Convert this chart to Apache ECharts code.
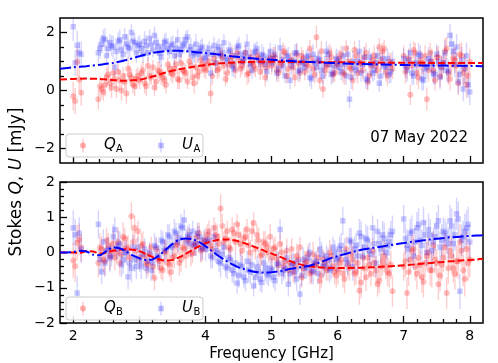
<!DOCTYPE html>
<html><head><meta charset="utf-8">
<script src="https://cdn.jsdelivr.net/npm/echarts@6/dist/echarts.min.js"></script>
<style>html,body{margin:0;padding:0;background:#fff}#c{width:498px;height:363px}</style>
</head><body><div id="c"></div>
<script>
// ---- data ----
// channel set 1
const freqs = [2.00,2.03,2.06,2.09,2.12,
 2.38,2.43,2.48,2.53,2.58,2.63,2.68,2.73,2.78,2.83,2.88,2.93,2.98,
 3.03,3.08,3.13,3.18,3.23,3.28,3.33,3.38,3.43,3.48,3.53,3.58,3.63,3.68,3.73,3.78,3.83,3.88,3.93,3.98,
 4.03,4.08,4.13,4.18,4.23,4.28,4.33,4.38,4.43,4.48,4.53,4.58,4.63,4.68,4.73,4.78,4.83,4.88,4.93,4.98,
 5.03,5.08,5.13,5.18,5.23,5.28,5.33,5.38,5.43,5.48,5.53,5.58,5.63,5.68,5.73,5.78,5.83,5.88,5.93,5.98,
 6.03,6.08,6.13,6.18,6.23,6.28,6.33,6.38,6.43,6.48,6.53,6.58,6.63,6.68,6.73,6.78,6.83,
 7.00,7.05,7.10,7.15,7.20,7.25,7.30,7.35,7.40,7.45,7.50,7.55,7.60,7.65,7.70,7.75,7.80,7.85,7.90,7.95,8.00];

const qA = [-0.2,-0.36,0.98,0.38,-0.08,
 -0.3,0.05,0.2,0.55,0.1,0.4,0.65,0.0,0.3,0.75,0.45,0.15,0.5,
 0.6,0.25,0.85,0.45,0.1,0.7,0.55,0.35,0.9,0.6,0.75,0.4,0.95,0.65,0.3,0.85,0.25,0.5,1.05,0.75,
 0.9,-0.1,1.1,0.7,1.25,0.85,0.6,1.05,0.9,1.3,0.75,1.0,0.55,1.15,0.85,1.2,0.65,1.0,0.8,1.1,
 1.2,0.7,0.95,1.35,0.5,1.0,0.8,1.25,0.6,1.1,0.9,1.45,0.75,1.84,0.35,0.05,0.85,1.3,0.55,0.95,
 1.1,0.6,1.45,0.8,0.35,1.2,0.95,0.7,1.3,0.5,1.05,0.85,1.5,1.35,0.65,1.0,0.75,
 1.2,0.8,-0.15,1.4,0.6,1.05,0.9,-0.3,1.3,0.7,1.15,0.5,0.95,1.45,0.4,1.1,0.85,1.25,0.6,0.2,1.0];

const uA = [2.2,0.95,1.56,1.3,1.25,
 1.3,1.6,1.75,1.45,1.55,0.8,1.7,1.4,1.85,1.5,2.0,1.65,1.55,
 1.45,1.7,1.3,1.6,1.9,1.5,1.15,1.65,1.45,1.55,1.2,1.75,1.4,1.6,1.85,1.5,1.3,1.25,1.45,1.1,
 1.3,0.6,1.55,1.4,1.2,1.65,1.05,1.35,0.75,1.5,1.25,1.1,1.6,0.9,1.3,1.45,1.0,1.2,0.65,1.35,
 1.1,0.6,1.47,0.85,1.2,0.35,1.0,1.3,0.7,0.95,1.15,0.45,1.25,0.8,1.05,0.5,1.35,0.9,0.6,1.1,
 0.8,1.2,0.5,-0.3,1.0,0.7,1.35,0.9,0.4,1.15,0.6,0.95,0.25,1.1,0.8,0.55,1.0,
 1.1,0.7,1.3,0.5,0.9,1.2,0.35,0.8,1.0,0.6,1.25,0.45,0.95,0.7,1.9,1.35,1.5,0.55,0.05,1.2,-0.05];

const errA = [0.5,0.45,0.5,0.4,0.45,
 0.35,0.3,0.4,0.3,0.35,0.3,0.3,0.35,0.3,0.4,0.3,0.35,0.3,
 0.3,0.35,0.3,0.25,0.3,0.3,0.35,0.3,0.25,0.3,0.3,0.35,0.3,0.3,0.25,0.3,0.35,0.3,0.3,0.3,
 0.3,0.35,0.3,0.3,0.25,0.3,0.35,0.3,0.3,0.25,0.3,0.3,0.35,0.3,0.3,0.25,0.3,0.3,0.35,0.3,
 0.3,0.3,0.35,0.3,0.25,0.3,0.3,0.35,0.3,0.3,0.25,0.3,0.35,0.4,0.3,0.3,0.35,0.3,0.3,0.35,
 0.3,0.35,0.3,0.3,0.35,0.3,0.4,0.3,0.35,0.3,0.3,0.35,0.3,0.3,0.35,0.3,0.35,
 0.35,0.4,0.35,0.3,0.4,0.35,0.35,0.4,0.35,0.4,0.35,0.4,0.35,0.4,0.4,0.35,0.45,0.4,0.4,0.45,0.45];

const qB = [-0.23,-0.39,0.28,0.37,0.14,
 -0.3,0.1,-0.25,0.2,0.05,-0.15,0.3,-0.05,0.4,0.15,1.03,0.7,0.6,
 0.2,-0.1,-0.35,0.15,-0.72,-0.2,-0.45,0.0,-0.3,-0.55,-0.1,0.25,-0.2,0.1,0.35,-0.05,0.2,0.45,0.05,0.3,
 0.5,0.2,0.7,0.45,1.25,0.3,0.6,0.1,0.55,0.8,0.25,0.4,0.65,0.0,0.84,0.5,-0.1,0.3,0.15,0.45,
 0.1,-0.2,0.25,-0.4,0.05,-0.3,-0.55,-0.1,0.15,-0.45,-0.25,-0.6,-0.05,-0.35,-0.8,-0.2,-0.5,0.0,-0.4,-0.65,
 -0.3,-0.6,0.1,-0.45,-0.2,-0.55,-1.08,-0.15,-0.7,-0.35,0.05,-0.5,-0.8,-0.25,-0.4,-0.6,-1.1,
 -0.4,-1.15,-0.2,0.1,-0.6,-0.35,-0.83,-0.1,-0.5,0.2,-0.3,-0.65,-0.15,-1.15,0.05,-0.45,-0.25,0.3,-0.5,0.1,-0.2];

const uB = [0.7,0.5,-1.15,0.55,0.1,
 0.8,-0.55,-0.3,0.1,-0.1,0.65,0.2,-0.35,0.0,-0.69,-0.45,-0.2,0.15,
 -0.4,0.1,-0.25,-0.5,0.2,-0.1,0.35,0.05,0.5,0.15,0.6,0.3,0.75,0.92,0.45,0.25,0.2,0.55,0.1,0.35,
 0.3,-0.1,0.45,0.0,-0.3,0.15,-0.45,-0.2,-0.6,-0.87,-0.35,-0.7,-0.25,-0.55,-0.95,-0.4,-0.75,-0.3,-0.6,-0.45,
 -0.7,-0.35,0.65,-0.5,-0.15,-0.6,-0.3,-0.75,-1.18,-0.2,-0.45,0.0,-0.55,-0.25,0.1,-0.4,-0.1,-0.5,0.15,-0.2,
 0.1,0.9,-0.2,0.35,-0.4,0.2,0.55,-0.1,0.4,0.05,0.7,-0.3,0.25,0.5,0.0,0.3,0.6,
 0.95,0.2,0.55,-0.1,0.7,0.35,0.85,0.0,0.5,0.3,0.75,0.15,0.6,0.4,0.9,0.25,1.1,-1.1,0.45,0.7,0.3];

const errB = [0.5,0.45,0.5,0.45,0.4,
 0.4,0.35,0.4,0.35,0.3,0.35,0.4,0.35,0.3,0.35,0.4,0.35,0.3,
 0.35,0.3,0.35,0.3,0.35,0.3,0.3,0.35,0.3,0.3,0.35,0.3,0.35,0.3,0.3,0.35,0.3,0.3,0.35,0.3,
 0.3,0.35,0.3,0.35,0.4,0.3,0.3,0.35,0.3,0.3,0.35,0.3,0.3,0.35,0.3,0.3,0.35,0.3,0.3,0.35,
 0.3,0.35,0.3,0.3,0.35,0.3,0.3,0.35,0.3,0.35,0.3,0.3,0.35,0.3,0.35,0.3,0.3,0.35,0.3,0.35,
 0.35,0.4,0.35,0.35,0.4,0.35,0.4,0.35,0.4,0.35,0.35,0.4,0.35,0.4,0.35,0.4,0.45,
 0.4,0.45,0.4,0.4,0.45,0.4,0.45,0.4,0.45,0.4,0.4,0.45,0.4,0.45,0.45,0.4,0.45,0.5,0.45,0.5,0.5];

// channel set 2 (interleaved)
const freqs2 = [2.405,2.455,2.505,2.555,2.605,2.655,2.705,2.755,2.805,2.855,2.905,2.955,
 3.005,3.055,3.105,3.155,3.205,3.255,3.305,3.355,3.405,3.455,3.505,3.555,3.605,3.655,3.705,3.755,3.805,3.855,3.905,3.955,
 4.005,4.055,4.105,4.155,4.205,4.255,4.305,4.355,4.405,4.455,4.505,4.555,4.605,4.655,4.705,4.755,4.805,4.855,4.905,4.955,
 5.005,5.055,5.105,5.155,5.205,5.255,5.305,5.355,5.405,5.455,5.505,5.555,5.605,5.655,5.705,5.755,5.805,5.855,5.905,5.955,
 6.005,6.055,6.105,6.155,6.205,6.255,6.305,6.355,6.405,6.455,6.505,6.555,6.605,6.655,6.705,6.755,6.805,
 7.025,7.075,7.125,7.175,7.225,7.275,7.325,7.375,7.425,7.475,7.525,7.575,7.625,7.675,7.725,7.775,7.825,7.875,7.925,7.975];

const qA2 = [0.15,-0.05,0.45,0.25,0.6,0.05,0.35,0.5,-0.1,0.55,0.2,0.4,
 0.35,0.7,0.15,0.5,0.8,0.3,0.65,0.45,0.2,0.75,0.55,0.9,0.35,0.7,0.6,1.0,0.45,0.8,0.65,0.9,
 0.7,1.0,0.5,0.95,0.75,1.15,0.4,0.9,1.2,0.7,1.05,0.85,1.3,0.6,0.95,0.75,1.1,0.9,0.45,1.0,
 0.85,1.15,0.6,0.9,1.3,0.75,1.05,0.45,0.95,1.2,0.65,0.85,1.1,0.55,1.0,1.35,0.7,0.9,1.15,0.6,
 0.9,1.25,0.55,1.0,0.75,1.4,0.6,0.95,1.15,0.3,0.85,1.2,0.7,1.05,1.45,0.5,0.9,
 0.65,1.1,0.85,1.3,0.45,0.95,1.2,0.7,1.0,0.35,1.15,0.8,1.35,0.6,0.9,1.05,0.25,1.2,0.75,0.5];

const uA2 = [1.45,1.8,1.2,1.65,1.5,1.35,1.75,1.25,1.6,1.45,1.7,1.3,
 1.6,1.25,1.55,1.8,1.4,1.65,1.3,1.5,1.7,1.35,1.6,1.45,1.25,1.55,1.75,1.4,1.2,1.6,1.35,1.5,
 1.15,1.45,1.25,0.95,1.5,1.3,1.1,1.4,0.85,1.2,1.55,1.0,1.3,1.15,0.7,1.35,1.05,1.25,0.9,1.15,
 0.95,1.25,0.75,1.05,0.5,1.15,0.85,1.3,0.65,1.0,0.8,1.2,0.4,0.95,1.1,0.7,0.9,1.25,0.55,0.85,
 1.05,0.65,0.9,1.25,0.45,0.8,1.0,0.6,1.15,0.35,0.9,0.7,1.2,0.5,0.85,1.1,0.65,
 0.85,1.05,0.6,0.95,1.25,0.4,0.75,1.1,0.9,0.55,1.0,0.8,1.3,0.65,1.6,0.9,0.3,1.05,0.75,0.2];

const errA2 = [0.35,0.3,0.35,0.3,0.4,0.3,0.35,0.3,0.35,0.3,0.3,0.35,
 0.3,0.3,0.35,0.3,0.25,0.3,0.35,0.3,0.3,0.25,0.3,0.35,0.3,0.3,0.3,0.25,0.3,0.35,0.3,0.3,
 0.3,0.25,0.3,0.35,0.3,0.3,0.25,0.3,0.35,0.3,0.3,0.3,0.25,0.35,0.3,0.3,0.3,0.35,0.3,0.25,
 0.3,0.35,0.3,0.3,0.25,0.35,0.3,0.3,0.35,0.3,0.3,0.25,0.35,0.3,0.3,0.35,0.3,0.3,0.35,0.3,
 0.35,0.3,0.35,0.3,0.4,0.3,0.35,0.3,0.35,0.3,0.4,0.35,0.3,0.35,0.3,0.35,0.4,
 0.4,0.35,0.4,0.35,0.4,0.4,0.35,0.4,0.45,0.35,0.4,0.4,0.45,0.4,0.4,0.45,0.4,0.45,0.5,0.45];

const qB2 = [0.15,-0.2,0.35,-0.1,0.25,0.0,-0.3,0.45,0.1,-0.15,0.3,0.05,
 -0.15,0.25,-0.3,-0.05,-0.4,0.1,-0.25,-0.5,0.05,-0.35,-0.15,0.2,-0.3,0.15,-0.1,0.4,0.0,0.25,0.55,0.1,
 0.35,0.6,0.1,0.5,0.25,0.75,0.4,0.15,0.65,0.3,0.5,0.05,0.45,0.2,0.6,0.1,0.35,-0.05,0.25,0.0,
 -0.15,0.15,-0.35,0.0,-0.25,-0.5,0.1,-0.4,-0.2,-0.7,-0.3,-0.05,-0.55,-0.35,-0.15,-0.65,-0.3,-0.45,-0.1,-0.55,
 -0.5,-0.2,-0.75,-0.35,-0.05,-0.6,-0.3,-0.85,-0.45,-0.15,-0.6,-0.3,-0.9,-0.4,-0.1,-0.55,-0.35,
 -0.25,-0.55,0.05,-0.4,-0.15,-0.7,-0.3,0.0,-0.5,-0.2,-0.9,-0.35,0.15,-0.45,-0.1,-0.6,-0.25,0.05,-0.75,-0.3];

const uB2 = [-0.2,0.3,0.05,-0.15,0.45,0.1,0.25,-0.2,0.0,-0.3,0.15,-0.4,
 -0.25,-0.05,-0.45,0.0,-0.3,0.15,-0.15,0.3,0.1,0.45,0.2,0.55,0.4,0.7,0.3,0.5,0.6,0.25,0.45,0.15,
 0.1,0.35,-0.15,0.05,-0.25,-0.05,-0.4,-0.15,-0.5,-0.3,-0.65,-0.4,-0.8,-0.5,-0.35,-0.7,-0.55,-0.85,-0.45,-0.65,
 -0.5,-0.8,-0.3,-0.6,-0.45,-0.9,-0.35,-0.55,-0.25,-0.65,-0.4,-0.15,-0.5,-0.3,-0.6,-0.05,-0.35,-0.2,-0.45,0.0,
 -0.15,0.2,0.0,-0.3,0.3,0.1,-0.1,0.45,0.15,0.35,-0.05,0.25,0.6,0.1,0.4,0.2,0.5,
 0.4,0.1,0.6,0.3,0.8,0.2,0.5,0.65,0.05,0.45,0.9,0.35,0.55,0.25,0.75,0.5,0.95,0.35,0.6,0.8];

const errB2 = [0.4,0.35,0.35,0.4,0.35,0.3,0.35,0.4,0.35,0.3,0.35,0.35,
 0.3,0.35,0.3,0.3,0.35,0.3,0.35,0.3,0.3,0.35,0.3,0.3,0.35,0.3,0.35,0.3,0.3,0.35,0.3,0.35,
 0.35,0.3,0.3,0.35,0.3,0.35,0.3,0.3,0.35,0.3,0.35,0.3,0.3,0.35,0.3,0.3,0.35,0.3,0.35,0.3,
 0.35,0.3,0.35,0.3,0.3,0.35,0.3,0.35,0.3,0.3,0.35,0.3,0.35,0.3,0.3,0.35,0.3,0.35,0.3,0.35,
 0.4,0.35,0.4,0.35,0.4,0.35,0.4,0.45,0.35,0.4,0.35,0.4,0.35,0.4,0.45,0.4,0.4,
 0.45,0.4,0.45,0.4,0.45,0.45,0.4,0.45,0.5,0.4,0.45,0.45,0.4,0.45,0.5,0.45,0.5,0.45,0.5,0.5];

// model curves
const modelFreqA = [1.8,2.0,2.2,2.4,2.6,2.8,3.0,3.2,3.4,3.6,3.8,4.0,4.2,4.4,4.6,4.8,5.0,5.2,5.4,5.6,5.8,6.0,6.2,6.4,6.6,6.8,7.0,7.2,7.4,7.6,7.8,8.0,8.2];
const qModelA = [0.38,0.40,0.41,0.40,0.36,0.34,0.37,0.48,0.62,0.73,0.81,0.88,0.93,0.96,0.98,0.99,0.99,0.99,0.98,0.98,0.97,0.97,0.97,0.96,0.96,0.96,0.96,0.96,0.95,0.95,0.95,0.95,0.95];
const uModelA = [0.75,0.80,0.84,0.89,0.95,1.05,1.18,1.30,1.36,1.37,1.34,1.29,1.24,1.18,1.13,1.09,1.06,1.03,1.00,0.98,0.96,0.94,0.92,0.91,0.90,0.89,0.88,0.87,0.86,0.86,0.85,0.85,0.84];

const modelFreqB = [1.8,1.9,2.0,2.1,2.2,2.3,2.4,2.5,2.6,2.7,2.8,2.9,3.0,3.1,3.2,3.3,3.4,3.5,3.6,3.7,3.8,3.9,4.0,4.1,4.2,4.3,4.4,4.5,4.6,4.7,4.8,4.9,5.0,5.1,5.2,5.3,5.4,5.5,5.6,5.7,5.8,5.9,6.0,6.1,6.2,6.3,6.4,6.5,6.6,6.7,6.8,6.9,7.0,7.1,7.2,7.3,7.4,7.5,7.6,7.7,7.8,7.9,8.0,8.1,8.2];
const qModelB = [0.0,0.0,0.0,-0.01,0.04,0.03,-0.03,0.0,0.05,0.08,0.09,0.08,0.04,-0.04,-0.13,-0.2,-0.23,-0.21,-0.14,-0.04,0.07,0.17,0.26,0.32,0.36,0.37,0.36,0.32,0.26,0.19,0.12,0.04,-0.03,-0.1,-0.18,-0.26,-0.32,-0.37,-0.4,-0.42,-0.43,-0.44,-0.44,-0.44,-0.44,-0.43,-0.43,-0.42,-0.41,-0.4,-0.39,-0.38,-0.36,-0.35,-0.33,-0.31,-0.3,-0.28,-0.27,-0.25,-0.24,-0.22,-0.21,-0.2,-0.18];
const uModelB = [0.0,0.0,0.01,0.05,0.03,-0.06,-0.08,0.04,0.14,0.12,0.03,-0.08,-0.16,-0.21,-0.2,-0.08,0.08,0.24,0.36,0.40,0.38,0.3,0.18,0.04,-0.1,-0.22,-0.33,-0.42,-0.48,-0.53,-0.56,-0.57,-0.56,-0.54,-0.5,-0.46,-0.43,-0.4,-0.36,-0.3,-0.23,-0.16,-0.1,-0.05,0.0,0.05,0.09,0.12,0.15,0.18,0.21,0.24,0.27,0.3,0.32,0.35,0.37,0.39,0.41,0.43,0.44,0.46,0.47,0.48,0.49];

const xMajorTicks = [2,3,4,5,6,7,8];
const xMinorTicks = [2.2,2.4,2.6,2.8,3.2,3.4,3.6,3.8,4.2,4.4,4.6,4.8,5.2,5.4,5.6,5.8,6.2,6.4,6.6,6.8,7.2,7.4,7.6,7.8];
const yMajorTicksA = [-2,0,2];
const yMinorTicksA = [-1.5,-1,-0.5,0.5,1,1.5];
const yMajorTicksB = [-2,-1,0,1,2];
const yMinorTicksB = [-1.8,-1.6,-1.4,-1.2,-0.8,-0.6,-0.4,-0.2,0.2,0.4,0.6,0.8,1.2,1.4,1.6,1.8];

// ---- chart ----
const FONT = 'DejaVu Sans';
const RED = 'rgba(255,0,0,0.3)', REDBAR = 'rgba(255,0,0,0.2)';
const BLUE = 'rgba(0,0,255,0.26)', BLUEBAR = 'rgba(0,0,255,0.17)';
const chart = echarts.init(document.getElementById('c'), null, {renderer: 'canvas'});

const allF = freqs.concat(freqs2);
const pairs = (xs, ys) => xs.map((x, i) => [x, ys[i]]);
const triples = (xs, ys, es) => xs.map((x, i) => [x, ys[i], es[i]]);
const minus = v => String(v).replace('-', '\u2212');

function errSeries(ai, data, color) {
  return {type: 'custom', xAxisIndex: ai.x, yAxisIndex: ai.y, clip: true, silent: true, data,
    encode: {x: 0, y: 1},
    renderItem(params, api) {
      const x = api.value(0), y = api.value(1), e = api.value(2);
      const p1 = api.coord([x, y - e]), p2 = api.coord([x, y + e]);
      return {type: 'line', shape: {x1: p1[0], y1: p1[1], x2: p2[0], y2: p2[1]},
        style: {stroke: color, lineWidth: 1.4}};
    }};
}
function pts(ai, data, color, symbol, size) {
  return {type: 'scatter', xAxisIndex: ai.x, yAxisIndex: ai.y, data, symbol, symbolSize: size,
    itemStyle: {color: color}, silent: true, clip: true};
}
function model(ai, data, color, dash) {
  return {type: 'line', xAxisIndex: ai.x, yAxisIndex: ai.y, data, smooth: 0.3, showSymbol: false,
    lineStyle: {color, width: 2, type: dash}, silent: true, z: 5};
}
function xAx(gi, ticks, len, showLabel, name) {
  const ax = {type: 'value', gridIndex: gi, min: 1.8, max: 8.2, position: 'bottom',
    axisLine: {show: false, onZero: false}, splitLine: {show: false},
    axisTick: {show: true, inside: true, length: len, customValues: ticks, lineStyle: {color: '#000', width: 1.3}},
    axisLabel: {show: showLabel, customValues: ticks, margin: 6, color: '#000', fontFamily: FONT, fontSize: 14}};
  if (name) {
    ax.name = name; ax.nameLocation = 'middle'; ax.nameGap = 24;
    ax.nameTextStyle = {color: '#000', fontFamily: FONT, fontSize: 15};
  }
  return ax;
}
function yAx(gi, mn, mx, ticks, len, showLabel) {
  return {type: 'value', gridIndex: gi, min: mn, max: mx, position: 'left',
    axisLine: {show: false, onZero: false}, splitLine: {show: false},
    axisTick: {show: true, inside: true, length: len, customValues: ticks, lineStyle: {color: '#000', width: 1.3}},
    axisLabel: {show: showLabel, customValues: ticks, margin: 5, color: '#000', fontFamily: FONT, fontSize: 14, formatter: minus}};
}

const A = {x: 0, y: 0}, B = {x: 2, y: 2};

function legendGraphics(top, sub) {
  const cy = top + 11.5;
  return [
    {type: 'rect', z: 100, shape: {x: 66, y: top, width: 137, height: 23, r: 3},
      style: {fill: 'rgba(255,255,255,0.85)', stroke: '#cccccc', lineWidth: 1}},
    {type: 'line', z: 101, shape: {x1: 83, y1: cy - 7, x2: 83, y2: cy + 7}, style: {stroke: REDBAR, lineWidth: 1.5}},
    {type: 'circle', z: 101, shape: {cx: 83, cy: cy, r: 3}, style: {fill: RED}},
    {type: 'text', z: 101, x: 104, y: cy, style: {text: 'Q', font: 'italic 15px "DejaVu Sans"', fill: '#000', verticalAlign: 'middle', align: 'left'}},
    {type: 'text', z: 101, x: 116, y: cy + 4, style: {text: sub, font: '10px "DejaVu Sans"', fill: '#000', verticalAlign: 'middle', align: 'left'}},
    {type: 'line', z: 101, shape: {x1: 161, y1: cy - 7, x2: 161, y2: cy + 7}, style: {stroke: BLUEBAR, lineWidth: 1.5}},
    {type: 'rect', z: 101, shape: {x: 158.25, y: cy - 2.75, width: 5.5, height: 5.5}, style: {fill: BLUE}},
    {type: 'text', z: 101, x: 182, y: cy, style: {text: 'U', font: 'italic 15px "DejaVu Sans"', fill: '#000', verticalAlign: 'middle', align: 'left'}},
    {type: 'text', z: 101, x: 193.5, y: cy + 4, style: {text: sub, font: '10px "DejaVu Sans"', fill: '#000', verticalAlign: 'middle', align: 'left'}}
  ];
}

chart.setOption({
  animation: false,
  backgroundColor: '#fff',
  grid: [
    {left: 60, top: 18, right: 15, height: 145, show: true, borderColor: '#000', borderWidth: 1.5, containLabel: false},
    {left: 60, top: 182, right: 15, height: 144, show: true, borderColor: '#000', borderWidth: 1.5, containLabel: false}
  ],
  xAxis: [
    xAx(0, xMajorTicks, 7, false),
    xAx(0, xMinorTicks, 4, false),
    xAx(1, xMajorTicks, 7, true, 'Frequency [GHz]'),
    xAx(1, xMinorTicks, 4, false)
  ],
  yAxis: [
    yAx(0, -2.5, 2.5, yMajorTicksA, 7, true),
    yAx(0, -2.5, 2.5, yMinorTicksA, 4, false),
    yAx(1, -2, 2, yMajorTicksB, 7, true),
    yAx(1, -2, 2, yMinorTicksB, 4, false)
  ],
  series: [
    errSeries(A, triples(allF, qA.concat(qA2), errA.concat(errA2)), REDBAR),
    pts(A, pairs(allF, qA.concat(qA2)), RED, 'circle', 6),
    errSeries(A, triples(allF, uA.concat(uA2), errA.concat(errA2)), BLUEBAR),
    pts(A, pairs(allF, uA.concat(uA2)), BLUE, 'rect', 5.5),
    model(A, pairs(modelFreqA, qModelA), '#ff0000', [7, 3]),
    model(A, pairs(modelFreqA, uModelA), '#0000ff', [11, 3, 2, 3]),
    errSeries(B, triples(allF, qB.concat(qB2), errB.concat(errB2)), REDBAR),
    pts(B, pairs(allF, qB.concat(qB2)), RED, 'circle', 6),
    errSeries(B, triples(allF, uB.concat(uB2), errB.concat(errB2)), BLUEBAR),
    pts(B, pairs(allF, uB.concat(uB2)), BLUE, 'rect', 5.5),
    model(B, pairs(modelFreqB, qModelB), '#ff0000', [7, 3]),
    model(B, pairs(modelFreqB, uModelB), '#0000ff', [11, 3, 2, 3])
  ],
  graphic: [
    {type: 'text', x: 17, y: 182, rotation: Math.PI / 2,
      style: {text: '{n|Stokes }{i|Q}{n|, }{i|U}{n| [mJy]}', align: 'center', verticalAlign: 'middle',
        rich: {n: {fontFamily: FONT, fontSize: 17, fill: '#000'}, i: {fontFamily: FONT, fontSize: 17, fontStyle: 'italic', fill: '#000'}}}},
    {type: 'text', x: 468, y: 138, style: {text: '07 May 2022', font: '15px "DejaVu Sans"', fill: '#000', align: 'right', verticalAlign: 'middle'}},
    ...legendGraphics(134, 'A'),
    ...legendGraphics(297, 'B')
  ]
});
</script>
</body></html>
